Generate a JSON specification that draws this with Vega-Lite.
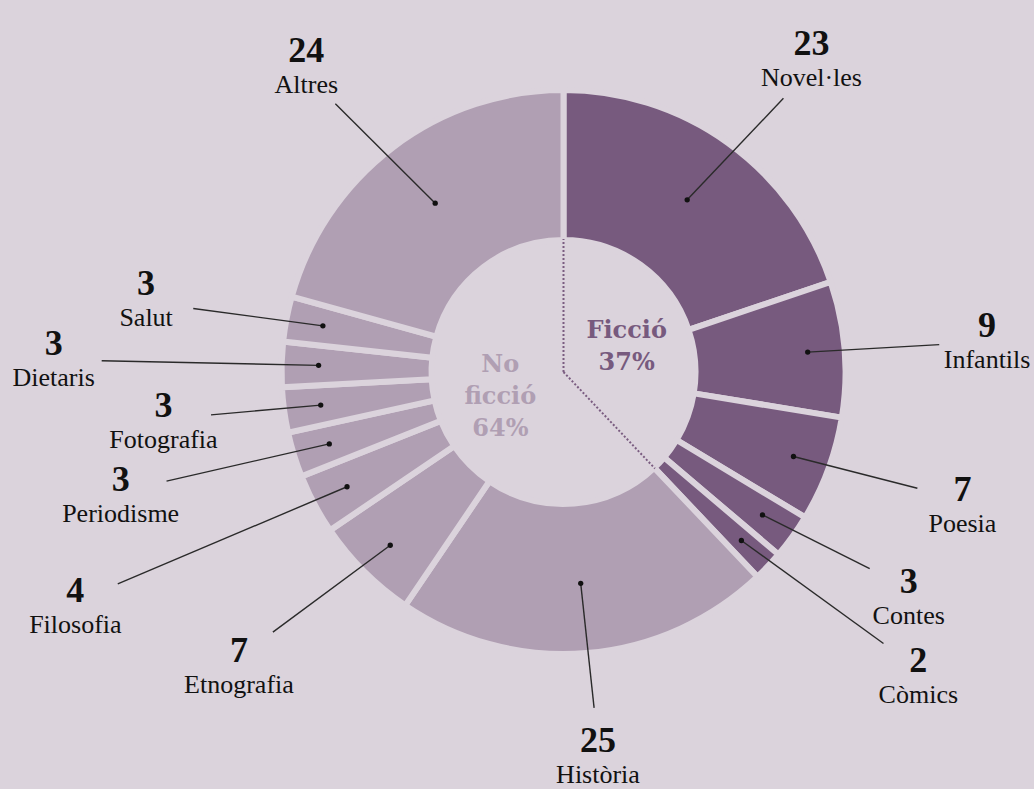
{
  "$schema": "https://vega.github.io/schema/vega-lite/v6.json",
  "width": 1034,
  "height": 789,
  "padding": 0,
  "autosize": {"type": "none"},
  "background": "#dbd3dc",
  "config": {"view": {"stroke": null}},
  "datasets": {
    "cats": [
      {"cat": "Novel·les", "n": 23, "group": "Ficció"},
      {"cat": "Infantils", "n": 9, "group": "Ficció"},
      {"cat": "Poesia", "n": 7, "group": "Ficció"},
      {"cat": "Contes", "n": 3, "group": "Ficció"},
      {"cat": "Còmics", "n": 2, "group": "Ficció"},
      {"cat": "Història", "n": 25, "group": "No ficció"},
      {"cat": "Etnografia", "n": 7, "group": "No ficció"},
      {"cat": "Filosofia", "n": 4, "group": "No ficció"},
      {"cat": "Periodisme", "n": 3, "group": "No ficció"},
      {"cat": "Fotografia", "n": 3, "group": "No ficció"},
      {"cat": "Dietaris", "n": 3, "group": "No ficció"},
      {"cat": "Salut", "n": 3, "group": "No ficció"},
      {"cat": "Altres", "n": 24, "group": "No ficció"}
    ],
    "groups": [
      {"group": "Ficció", "label": "Ficció\n37%"},
      {"group": "No ficció", "label": "No\nficció\n64%"}
    ]
  },
  "data": {"name": "cats"},
  "transform": [
    {"window": [{"op": "sum", "field": "n", "as": "cum"}], "frame": [null, 0]},
    {"window": [{"op": "row_number", "as": "gi"}], "groupby": ["group"]},
    {"joinaggregate": [{"op": "sum", "field": "n", "as": "total"}]},
    {"calculate": "0", "as": "z"},
    {"calculate": "2*PI*(datum.cum - datum.n)/datum.total", "as": "a0"},
    {"calculate": "2*PI*datum.cum/datum.total", "as": "a1"},
    {"calculate": "(datum.a0 + datum.a1)/2", "as": "am"},
    {"calculate": "datum.cat == 'Filosofia' ? 1.3 : datum.cat == 'Dietaris' ? 1.2 : datum.cat == 'Còmics' ? 1.15 : datum.cat == 'Periodisme' ? 1.09 : datum.cat == 'Etnografia' ? 1.08 : datum.cat == 'Fotografia' ? 0.95 : 1", "as": "s"},
    {"calculate": "425*datum.s*sin(datum.am)", "as": "lx"},
    {"calculate": "385*datum.s*cos(datum.am)", "as": "ly"},
    {"calculate": "datum.lx - 48*sin(datum.am)", "as": "ex"},
    {"calculate": "datum.ly - 48*cos(datum.am)", "as": "ey"},
    {"calculate": "datum.n >= 20 ? 212 : 245", "as": "rd"},
    {"calculate": "datum.rd*sin(datum.am)", "as": "px"},
    {"calculate": "datum.rd*cos(datum.am)", "as": "py"},
    {"calculate": "133*sin(datum.a0)", "as": "bx"},
    {"calculate": "133*cos(datum.a0)", "as": "by"}
  ],
  "layer": [
    {
      "mark": {"type": "arc", "outerRadius": 282, "innerRadius": 132, "stroke": "#dbd3dc", "strokeWidth": 6},
      "encoding": {
        "x": {"field": "z", "type": "quantitative", "scale": {"domain": [-563.5, 470.5], "nice": false, "zero": false}, "axis": null},
        "y": {"field": "z", "type": "quantitative", "scale": {"domain": [-417, 372], "nice": false, "zero": false}, "axis": null},
        "theta": {"field": "a0", "type": "quantitative", "stack": null, "scale": {"type": "linear", "domain": [0, 6.283185307179586], "range": [0, 6.283185307179586], "nice": false, "zero": true}},
        "theta2": {"field": "a1"},
        "color": {"field": "group", "type": "nominal", "scale": {"domain": ["Ficció", "No ficció"], "range": ["#775a7e", "#b09fb3"]}, "legend": null}
      }
    },
    {
      "transform": [{"filter": "datum.gi == 1"}],
      "mark": {"type": "rule", "color": "#7a5c80", "strokeWidth": 2, "strokeDash": [2, 2]},
      "encoding": {
        "x": {"field": "z", "type": "quantitative", "scale": {"domain": [-563.5, 470.5], "nice": false, "zero": false}, "axis": null},
        "y": {"field": "z", "type": "quantitative", "scale": {"domain": [-417, 372], "nice": false, "zero": false}, "axis": null},
        "x2": {"field": "bx"},
        "y2": {"field": "by"}
      }
    },
    {
      "mark": {"type": "rule", "color": "#2a2a2a", "strokeWidth": 1.4},
      "encoding": {
        "x": {"field": "px", "type": "quantitative", "scale": {"domain": [-563.5, 470.5], "nice": false, "zero": false}, "axis": null},
        "y": {"field": "py", "type": "quantitative", "scale": {"domain": [-417, 372], "nice": false, "zero": false}, "axis": null},
        "x2": {"field": "ex"},
        "y2": {"field": "ey"}
      }
    },
    {
      "mark": {"type": "circle", "size": 28, "color": "#111111", "opacity": 1},
      "encoding": {
        "x": {"field": "px", "type": "quantitative", "scale": {"domain": [-563.5, 470.5], "nice": false, "zero": false}, "axis": null},
        "y": {"field": "py", "type": "quantitative", "scale": {"domain": [-417, 372], "nice": false, "zero": false}, "axis": null}
      }
    },
    {
      "mark": {"type": "text", "font": "Liberation Serif", "fontWeight": "bold", "fontSize": 36, "baseline": "alphabetic", "align": "center", "dy": -4, "color": "#111111"},
      "encoding": {
        "x": {"field": "lx", "type": "quantitative", "scale": {"domain": [-563.5, 470.5], "nice": false, "zero": false}, "axis": null},
        "y": {"field": "ly", "type": "quantitative", "scale": {"domain": [-417, 372], "nice": false, "zero": false}, "axis": null},
        "text": {"field": "n", "type": "quantitative"}
      }
    },
    {
      "mark": {"type": "text", "font": "Liberation Serif", "fontSize": 26, "baseline": "alphabetic", "align": "center", "dy": 27, "color": "#111111"},
      "encoding": {
        "x": {"field": "lx", "type": "quantitative", "scale": {"domain": [-563.5, 470.5], "nice": false, "zero": false}, "axis": null},
        "y": {"field": "ly", "type": "quantitative", "scale": {"domain": [-417, 372], "nice": false, "zero": false}, "axis": null},
        "text": {"field": "cat", "type": "nominal"}
      }
    },
    {
      "transform": [
        {"aggregate": [{"op": "min", "field": "a0", "as": "g0"}, {"op": "max", "field": "a1", "as": "g1"}], "groupby": ["group"]},
        {"lookup": "group", "from": {"data": {"name": "groups"}, "key": "group", "fields": ["label"]}},
        {"calculate": "(datum.g0 + datum.g1)/2", "as": "gm"},
        {"calculate": "68*sin(datum.gm)", "as": "gx"},
        {"calculate": "68*cos(datum.gm) + (length(split(datum.label, '\\n')) - 1)*16", "as": "gy"}
      ],
      "mark": {"type": "text", "font": "DejaVu Serif", "fontWeight": "bold", "fontSize": 24, "lineBreak": "\n", "lineHeight": 32, "baseline": "middle", "align": "center"},
      "encoding": {
        "x": {"field": "gx", "type": "quantitative", "scale": {"domain": [-563.5, 470.5], "nice": false, "zero": false}, "axis": null},
        "y": {"field": "gy", "type": "quantitative", "scale": {"domain": [-417, 372], "nice": false, "zero": false}, "axis": null},
        "text": {"field": "label", "type": "nominal"},
        "color": {"field": "group", "type": "nominal", "scale": {"domain": ["Ficció", "No ficció"], "range": ["#775a7e", "#b09fb3"]}, "legend": null}
      }
    }
  ]
}
